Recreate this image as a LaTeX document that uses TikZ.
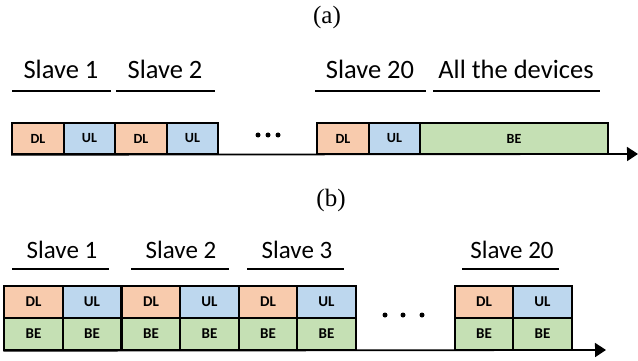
\documentclass[tikz,border=0pt]{standalone}
\usepackage{fontspec}
\setmainfont{Liberation Serif}
\newfontfamily\calfont{Carlito}
\usetikzlibrary{arrows.meta}
\definecolor{dlfill}{HTML}{F8CBAD}
\definecolor{ulfill}{HTML}{BDD7EE}
\definecolor{befill}{HTML}{C5E0B4}
\newcommand\cellfonta{\calfont\bfseries\fontsize{14}{16}\selectfont}
\newcommand\cellfontb{\calfont\bfseries\fontsize{15}{17}\selectfont}
\begin{document}
\begin{tikzpicture}[x=1pt,y=-1pt,
  cell/.style={draw=black,line width=1.6pt,inner sep=0pt,minimum height=31pt,
    execute at begin node=\cellfonta},
  cellb/.style={draw=black,line width=1.6pt,inner sep=0pt,minimum height=32pt,
    minimum width=58.5pt,execute at begin node=\cellfontb},
  dl/.style={fill=dlfill},
  ul/.style={fill=ulfill},
  be/.style={fill=befill},
  slavelbl/.style={anchor=base,inner sep=0pt,font=\calfont\fontsize{26.5}{30}\selectfont},
  slavelblb/.style={slavelbl,font=\calfont\fontsize{25}{29}\selectfont},
  partlbl/.style={anchor=base,inner sep=0pt,font=\fontsize{25}{29}\selectfont},
  uline/.style={line width=1.4pt},
  axis/.style={line width=1.7pt,-{Triangle[length=11pt,width=14pt]}},
  dot/.style={circle,fill=black,inner sep=0pt,minimum size=5pt}]
\useasboundingbox (0,0) rectangle (638,361);

% ---------------- (a) ----------------
\node[partlbl] (lbla) at (327,24) {(a)};

\node[slavelbl] (sa1) at (61,79) {Slave 1};
\node[slavelbl] (sa2) at (165,79) {Slave 2};
\node[slavelbl] (sa20) at (370,79) {Slave 20};
\node[slavelbl] (saall) at (516,79) {All the devices};
\draw[uline] (12,91) -- (111,91);
\draw[uline] (116,91) -- (215,91);
\draw[uline] (315,91) -- (426,91);
\draw[uline] (433,91) -- (600,91);

\node[cell,dl,minimum width=52pt] (adl1) at (38,138.5) {DL};
\node[cell,ul,minimum width=51pt] (aul1) at (89.5,138.5) {UL};
\node[cell,dl,minimum width=52pt] (adl2) at (141,138.5) {DL};
\node[cell,ul,minimum width=51pt] (aul2) at (192.5,138.5) {UL};
\node[cell,dl,minimum width=52pt] (adl20) at (343,138.5) {DL};
\node[cell,ul,minimum width=51pt] (aul20) at (394.5,138.5) {UL};
\node[cell,be,minimum width=188pt] (abe) at (514,138.5) {BE};

\node[dot] (ad1) at (258,135) {};
\node[dot] (ad2) at (268,135) {};
\node[dot] (ad3) at (278,135) {};

\coordinate (aend) at (638,154);
\draw[axis] (adl1.south west) -- (aend);

% ---------------- (b) ----------------
\node[partlbl] (lblb) at (331,206) {(b)};

\node[slavelblb] (sb1) at (62,258) {Slave 1};
\node[slavelblb] (sb2) at (181,258) {Slave 2};
\node[slavelblb] (sb3) at (297,258) {Slave 3};
\node[slavelblb] (sb20) at (512,258) {Slave 20};
\draw[uline] (12,269) -- (109,269);
\draw[uline] (131,269) -- (229,269);
\draw[uline] (247,269) -- (344,269);
\draw[uline] (462,269) -- (559,269);

\foreach \i/\x in {1/33.5,2/151,3/268}{
  \node[cellb,dl] (bdl\i) at (\x,302) {DL};
  \node[cellb,ul] (bul\i) at (\x+58.5,302) {UL};
  \node[cellb,be] (bbea\i) at (\x,334) {BE};
  \node[cellb,be] (bbeb\i) at (\x+58.5,334) {BE};
}
\node[cellb,dl] (bdl20) at (484,302) {DL};
\node[cellb,ul] (bul20) at (542.5,302) {UL};
\node[cellb,be] (bbea20) at (484,334) {BE};
\node[cellb,be] (bbeb20) at (542.5,334) {BE};

\node[dot] (bd1) at (385,315) {};
\node[dot] (bd2) at (403,315) {};
\node[dot] (bd3) at (422,315) {};

\coordinate (bend) at (606,350);
\draw[axis] (bbea1.south west) -- (bend);
\end{tikzpicture}
\end{document}
